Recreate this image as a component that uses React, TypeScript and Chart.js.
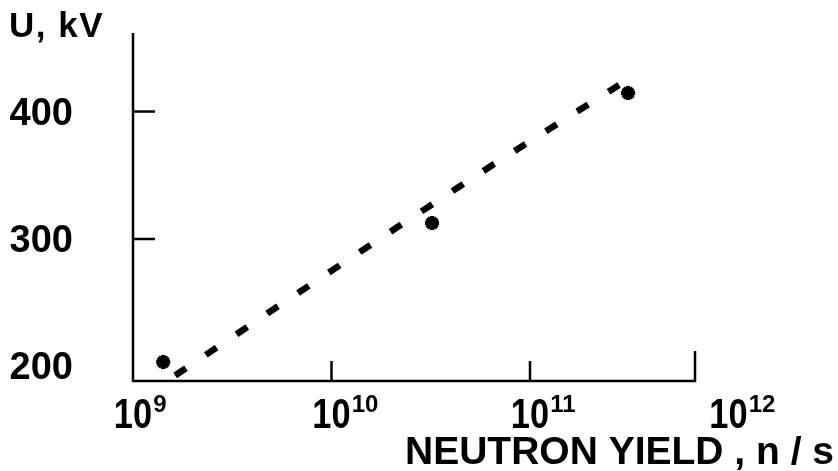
import React, { useEffect, useRef } from 'react';
import { Chart, registerables } from 'chart.js';

Chart.register(...registerables);

// Dashed fit curve (neutron yield, n/s  vs  voltage, kV)
const curveYield = [1.63e9, 5.13e9, 2.19e10, 6.36e10, 2.81e11];
const curveVoltage = [192.9, 245.1, 310.2, 357.3, 420.8];

// Measured points (star markers)
const markYield = [1.42e9, 3.21e10, 3.12e11];
const markVoltage = [203.5, 312.5, 414.5];

// Axis ticks / labels
const xTickExponents = [9, 10, 11, 12];
const xTickMarkValues = [1e10, 1e11];
const yTickLabelValues = [400, 300, 200];
const yTickMarkValues = [400, 300];
const xAxisTitle = 'NEUTRON YIELD , n / s';
const yAxisTitle = 'U, kV';

const X_MIN = 1e9;
const X_MAX = 6.78e11;
const Y_MIN = 188.6;
const Y_MAX = 461.6;

const FONT = '"Liberation Sans", Arial, Helvetica, sans-serif';

const handAxes = {
  id: 'handAxes',
  beforeDatasetsDraw(chart: any) {
    const { ctx, chartArea, scales } = chart;
    const xs = scales.x;
    const ys = scales.y;
    const left = chartArea.left;
    const bottom = chartArea.bottom;
    const top = chartArea.top;
    const right = xs.getPixelForValue(X_MAX);
    ctx.save();
    ctx.strokeStyle = '#000';
    ctx.lineWidth = 2.5;
    ctx.lineCap = 'butt';
    // axis lines
    ctx.beginPath();
    ctx.moveTo(left, top);
    ctx.lineTo(left, bottom);
    ctx.lineTo(right, bottom);
    ctx.lineTo(right, bottom - 30);
    ctx.stroke();
    // y tick marks (inside)
    yTickMarkValues.forEach((v) => {
      const y = ys.getPixelForValue(v);
      ctx.beginPath();
      ctx.moveTo(left, y);
      ctx.lineTo(left + 22, y);
      ctx.stroke();
    });
    // x tick marks (inside)
    xTickMarkValues.forEach((v) => {
      const x = xs.getPixelForValue(v);
      ctx.beginPath();
      ctx.moveTo(x, bottom);
      ctx.lineTo(x, bottom - 20);
      ctx.stroke();
    });
    ctx.fillStyle = '#000';
    // y tick labels
    ctx.font = `bold 38px ${FONT}`;
    ctx.textAlign = 'right';
    ctx.textBaseline = 'alphabetic';
    yTickLabelValues.forEach((v) => {
      const y = ys.getPixelForValue(v);
      ctx.fillText(String(v), left - 60, y + 13);
    });
    // x tick labels: 10 with superscript exponent
    xTickExponents.forEach((e) => {
      const x = xs.getPixelForValue(Math.pow(10, e));
      ctx.save();
      ctx.translate(x, bottom + 47);
      ctx.scale(0.8, 1);
      ctx.font = `bold 43px ${FONT}`;
      ctx.textAlign = 'center';
      const w = ctx.measureText('10').width * 0.8;
      ctx.fillText('10', 0, 0);
      ctx.restore();
      ctx.font = `bold 24px ${FONT}`;
      ctx.textAlign = 'left';
      ctx.fillText(String(e), x + w / 2 + 1, bottom + 31);
    });
    // axis titles
    ctx.font = `bold 39px ${FONT}`;
    ctx.textAlign = 'right';
    ctx.fillText(xAxisTitle, 834, chart.height - 7);
    ctx.font = `bold 35px ${FONT}`;
    ctx.textAlign = 'left';
    (ctx as any).letterSpacing = '1.5px';
    ctx.fillText(yAxisTitle, 9, 37);
    (ctx as any).letterSpacing = '0px';
    ctx.restore();
  },
};

export default function App() {
  const ref = useRef<HTMLCanvasElement | null>(null);
  useEffect(() => {
    if (!ref.current) return;
    const chart = new Chart(ref.current, {
      type: 'line',
      data: {
        datasets: [
          {
            label: 'fit',
            data: curveYield.map((x, i) => ({ x, y: curveVoltage[i] })),
            borderColor: '#000',
            borderWidth: 6.5,
            borderDash: [13, 24],
            borderCapStyle: 'butt',
            pointRadius: 0,
            tension: 0,
            fill: false,
          },
          {
            label: 'measured',
            data: markYield.map((x, i) => ({ x, y: markVoltage[i] })),
            showLine: false,
            pointStyle: 'star',
            pointRadius: 7,
            borderColor: '#000',
            backgroundColor: '#000',
            pointBorderWidth: 4.5,
          },
        ],
      },
      options: {
        responsive: false,
        animation: false,
        layout: { padding: { left: 133, right: 143, top: 33, bottom: 90 } },
        plugins: { legend: { display: false }, tooltip: { enabled: false } },
        scales: {
          x: { type: 'logarithmic', min: X_MIN, max: X_MAX, display: false },
          y: { type: 'linear', min: Y_MIN, max: Y_MAX, display: false },
        },
      },
      plugins: [handAxes],
    } as any);
    return () => chart.destroy();
  }, []);
  return (
    <div style={{ position: 'fixed', left: 0, top: 0, width: 838, height: 471, background: '#fff' }}>
      <canvas ref={ref} width={838} height={471} />
    </div>
  );
}
